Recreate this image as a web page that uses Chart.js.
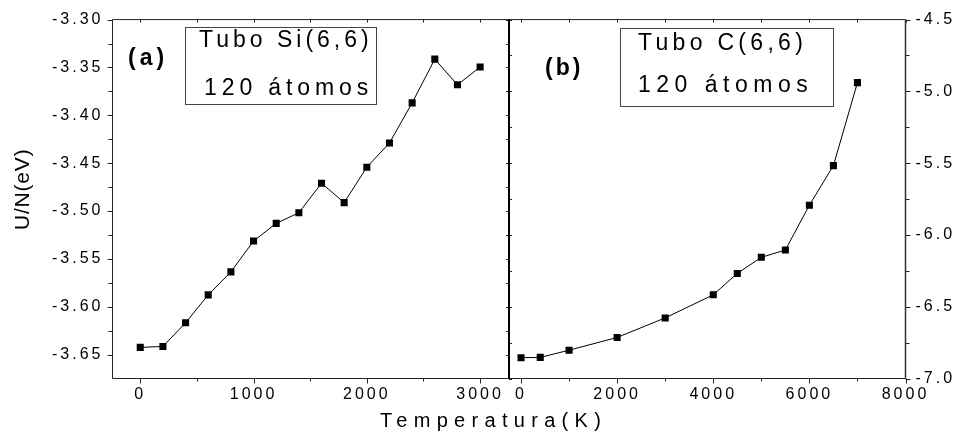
<!DOCTYPE html>
<html>
<head>
<meta charset="utf-8">
<script src="https://cdn.jsdelivr.net/npm/chart.js@4.4.1/dist/chart.umd.min.js"></script>
<style>
  html, body { margin: 0; padding: 0; background: #fff; }
  #wrap { width: 957px; height: 438px; }
</style>
</head>
<body>
<div id="wrap"><canvas id="chart" width="957" height="438"></canvas></div>
<script>
// (a) Si(6,6) tube, 120 atoms
const siTemp = [0, 200, 400, 600, 800, 1000, 1200, 1400, 1600, 1800, 2000, 2200, 2400, 2600, 2800, 3000]
const siEnergy = [-3.6425, -3.6415, -3.6168, -3.5876, -3.5636, -3.5314, -3.5129, -3.5018,
                  -3.4710, -3.4912, -3.4542, -3.4289, -3.3870, -3.3413, -3.3681, -3.3496]

// (b) C(6,6) tube, 120 atoms
const cTemp = [0, 400, 1000, 2000, 3000, 4000, 4500, 5000, 5500, 6000, 6500, 7000]
const cEnergy = [-6.855, -6.853, -6.803, -6.714, -6.578, -6.417, -6.268, -6.156, -6.105, -5.793, -5.517, -4.939]

// tick labels
const siTempTicks = [0, 1000, 2000, 3000]
const cTempTicks = [0, 2000, 4000, 6000, 8000]
const siEnergyTicks = [-3.30, -3.35, -3.40, -3.45, -3.50, -3.55, -3.60, -3.65]
const cEnergyTicks = [-4.5, -5.0, -5.5, -6.0, -6.5, -7.0]

const FONT = "'Liberation Sans', Arial, sans-serif"

function fixedTicks(values) {
  return scale => { scale.ticks = values.map(v => ({value: v})) }
}

function midpoints(values) {
  const out = []
  for (let i = 1; i < values.length; i++) out.push((values[i - 1] + values[i]) / 2)
  return out
}

function text(ctx, str, x, y, size, spacing, bold) {
  ctx.font = (bold ? "bold " : "") + size + "px " + FONT
  ctx.letterSpacing = spacing + "px"
  ctx.textAlign = "left"
  ctx.textBaseline = "alphabetic"
  ctx.fillStyle = "#000"
  ctx.fillText(str, x, y)
}

// frame, inward/outward ticks, boxes and axis titles (Origin style)
const frame = {
  id: "frame",
  beforeDraw(chart) { chart.ctx.letterSpacing = "3px" },
  afterDraw(chart) {
    const {ctx, chartArea: a} = chart
    const {x1, x2, y1, y2} = chart.scales
    const mid = x1.right
    const seg = (xa, ya, xb, yb) => { ctx.beginPath(); ctx.moveTo(xa, ya); ctx.lineTo(xb, yb); ctx.stroke() }
    const px = v => Math.round(v) + 0.5
    ctx.save()
    ctx.strokeStyle = "#222"
    ctx.lineWidth = 1
    seg(a.left, a.top, a.right, a.top)
    seg(a.left, a.bottom, a.right, a.bottom)
    seg(a.left, a.top, a.left, a.bottom)

    for (const [s, major] of [[x1, siTempTicks], [x2, cTempTicks]]) {
      for (const v of major) {
        const p = px(s.getPixelForValue(v))
        seg(p, a.bottom, p, a.bottom + 5)
        seg(p, a.top, p, a.top + 3)
      }
      for (const v of midpoints(major)) {
        const p = px(s.getPixelForValue(v))
        seg(p, a.bottom, p, a.bottom + 3)
        seg(p, a.top, p, a.top + 3)
      }
    }
    for (const v of siEnergyTicks) {
      const p = px(y1.getPixelForValue(v))
      seg(a.left - 5, p, a.left, p)
      seg(mid - 3, p, mid, p)
    }
    for (const v of midpoints(siEnergyTicks)) {
      const p = px(y1.getPixelForValue(v))
      seg(a.left - 4, p, a.left, p)
      seg(mid - 3, p, mid, p)
    }
    for (const v of cEnergyTicks) {
      const p = px(y2.getPixelForValue(v))
      seg(a.right, p, a.right + 5, p)
      seg(mid, p, mid + 3, p)
    }
    for (const v of midpoints(cEnergyTicks)) {
      const p = px(y2.getPixelForValue(v))
      seg(a.right, p, a.right + 4, p)
      seg(mid, p, mid + 3, p)
    }

    ctx.lineWidth = 2
    ctx.strokeStyle = "#000"
    seg(mid, a.top, mid, a.bottom)
    ctx.lineWidth = 1.5
    ctx.strokeStyle = "#333"
    seg(a.right, a.top, a.right, a.bottom)

    // legend boxes
    ctx.lineWidth = 1
    ctx.strokeStyle = "#444"
    ctx.strokeRect(185.5, 27.5, 191, 77)
    ctx.strokeRect(620.5, 28.5, 213, 78)
    text(ctx, "Tubo Si(6,6)", 199, 47, 23, 4.0)
    text(ctx, "120 átomos", 204, 95, 23, 4.9)
    text(ctx, "Tubo C(6,6)", 638, 50, 23, 4.3)
    text(ctx, "120 átomos", 638, 92, 23, 5.5)
    text(ctx, "(a)", 128, 65, 23, 4, true)
    text(ctx, "(b)", 545, 75, 23, 3, true)

    // axis titles
    text(ctx, "Temperatura(K)", 380, 427, 20, 6.3)
    ctx.translate(28.5, 230)
    ctx.rotate(-Math.PI / 2)
    text(ctx, "U/N(eV)", 0, 0, 21, 0.8)
    ctx.restore()
  }
}

const tickFont = {family: FONT, size: 16}

new Chart("chart", {
  type: "line",
  data: {
    datasets: [
      {
        data: siTemp.map((t, i) => ({x: t, y: siEnergy[i]})),
        xAxisID: "x1",
        yAxisID: "y1",
      },
      {
        data: cTemp.map((t, i) => ({x: t, y: cEnergy[i]})),
        xAxisID: "x2",
        yAxisID: "y2",
      },
    ]
  },
  options: {
    responsive: false,
    animation: false,
    events: [],
    layout: {padding: {top: 15.5, left: 0, right: 0, bottom: 0}},
    plugins: {
      legend: {display: false},
      tooltip: {enabled: false},
    },
    elements: {
      line: {borderColor: "#000", borderWidth: 1, tension: 0, fill: false},
      point: {pointStyle: "rect", radius: 5, backgroundColor: "#000", borderWidth: 0},
    },
    scales: {
      x1: {
        type: "linear", position: "bottom", stack: "x", stackWeight: 1,
        min: -245, max: 3255,
        afterBuildTicks: fixedTicks(siTempTicks),
        afterFit: s => { s.height = 59.5 },
        grid: {display: false, drawTicks: false},
        border: {display: false},
        ticks: {font: tickFont, color: "#000", padding: 6, autoSkip: false, maxRotation: 0,
                callback: v => String(v)},
      },
      x2: {
        type: "linear", position: "bottom", stack: "x", stackWeight: 1,
        min: -250, max: 8000,
        afterBuildTicks: fixedTicks(cTempTicks),
        afterFit: s => { s.height = 59.5 },
        grid: {display: false, drawTicks: false},
        border: {display: false},
        ticks: {font: tickFont, color: "#000", padding: 6, autoSkip: false, maxRotation: 0,
                callback: v => String(v)},
      },
      y1: {
        type: "linear", position: "left",
        min: -3.675, max: -3.30,
        afterBuildTicks: fixedTicks(siEnergyTicks),
        afterFit: s => { s.width = 112.5 },
        grid: {display: false, drawTicks: false},
        border: {display: false},
        ticks: {font: tickFont, color: "#000", padding: 9, callback: v => v.toFixed(2)},
      },
      y2: {
        type: "linear", position: "right",
        min: -7.0, max: -4.5,
        afterBuildTicks: fixedTicks(cEnergyTicks),
        afterFit: s => { s.width = 51.5 },
        grid: {display: false, drawTicks: false},
        border: {display: false},
        ticks: {font: tickFont, color: "#000", padding: 10, callback: v => v.toFixed(1)},
      },
    },
  },
  plugins: [frame],
})
</script>
</body>
</html>
